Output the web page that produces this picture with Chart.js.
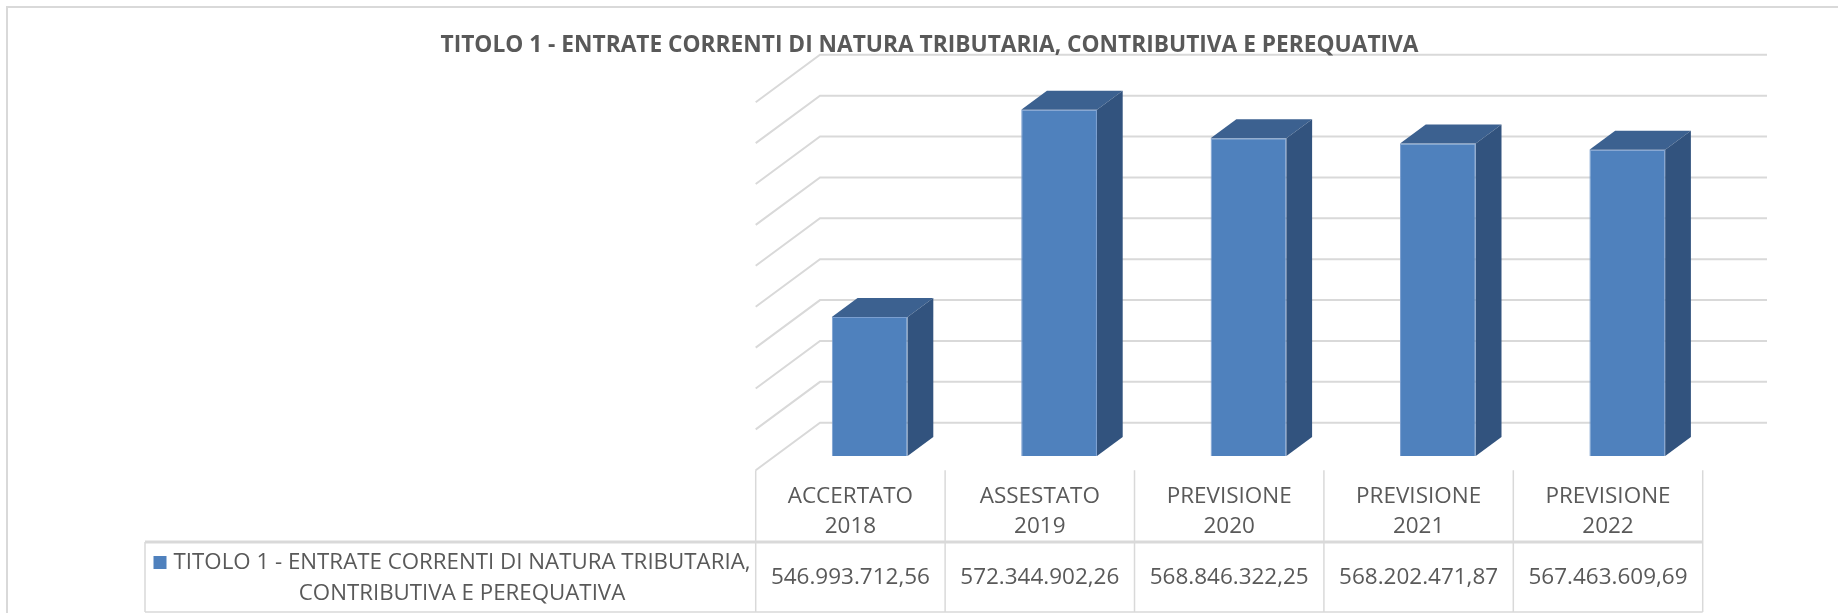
<!DOCTYPE html>
<html>
<head>
<meta charset="utf-8">
<script src="https://cdn.jsdelivr.net/npm/chart.js@4.4.0/dist/chart.umd.min.js"></script>
<style>
  html, body { margin: 0; padding: 0; background: #fff; }
  canvas { display: block; }
</style>
</head>
<body>
<canvas id="chart" width="1838" height="613"></canvas>
<script>
const chartTitle = 'TITOLO 1 - ENTRATE CORRENTI DI NATURA TRIBUTARIA, CONTRIBUTIVA E PEREQUATIVA';
const seriesName = ['TITOLO 1 - ENTRATE CORRENTI DI NATURA TRIBUTARIA,', 'CONTRIBUTIVA E PEREQUATIVA'];
const categories = [
    ['ACCERTATO', '2018'],
    ['ASSESTATO', '2019'],
    ['PREVISIONE', '2020'],
    ['PREVISIONE', '2021'],
    ['PREVISIONE', '2022']
];
const values = [546993712.56, 572344902.26, 568846322.25, 568202471.87, 567463609.69];
const yMin = 530000000;
const yMax = 575000000;
const yStep = 5000000;

const TEXT = '#595959';
const LINE = '#d9d9d9';

// depth of the 3d box: from the back wall to the front edge of the floor
const DEPTH = { x: -64.3, y: 47.5 };
const BAR_FRONT = 0.70;
const BAR_BACK = 0.30;

// shift from the bar front plane to a given depth (0 = back wall, 1 = front edge)
function shift (f) {
    return { x: DEPTH.x * (f - BAR_FRONT), y: DEPTH.y * (f - BAR_FRONT) };
}

// euro amounts written the italian way: 546.993.712,56
function euro (v) {
    const parts = v.toFixed(2).split('.');
    return parts[0].replace(/\B(?=(\d{3})+(?!\d))/g, '.') + ',' + parts[1];
}

function drawText (ctx, str, x, y, font, sx) {
    ctx.save();
    ctx.font = font;
    ctx.translate(x, y);
    ctx.scale(sx, 1);
    ctx.fillText(str, 0, 0);
    ctx.restore();
}

function fitScale (ctx, str, font, width) {
    ctx.save();
    ctx.font = font;
    const w = ctx.measureText(str).width;
    ctx.restore();
    return width / w;
}

const walls = {
    id: 'walls',
    beforeDatasetsDraw (chart) {
        const { ctx, chartArea: a, scales: { y } } = chart;
        const back = shift(0);
        const front = shift(1);
        ctx.save();
        ctx.strokeStyle = LINE;
        ctx.lineWidth = 2;
        y.ticks.forEach(t => {
            const py = y.getPixelForValue(t.value);
            ctx.beginPath();
            ctx.moveTo(a.left + front.x, py + front.y);
            ctx.lineTo(a.left + back.x, py + back.y);
            ctx.lineTo(a.right + back.x, py + back.y);
            ctx.stroke();
        });
        ctx.restore();
    }
};

const boxes = {
    id: 'boxes',
    afterDatasetsDraw (chart) {
        const { ctx, chartArea: a } = chart;
        const d = shift(BAR_BACK);
        ctx.save();
        chart.getDatasetMeta(0).data.forEach(bar => {
            const p = bar.getProps(['x', 'y', 'width', 'base'], true);
            // the bars rest on the floor, which is the bottom of the axis
            const base = Math.min(p.base, a.bottom);
            const y = p.y;
            const l = p.x - p.width / 2;
            const r = p.x + p.width / 2;
            ctx.fillStyle = '#3c6190';
            ctx.beginPath();
            ctx.moveTo(l, y);
            ctx.lineTo(l + d.x, y + d.y);
            ctx.lineTo(r + d.x, y + d.y);
            ctx.lineTo(r, y);
            ctx.closePath();
            ctx.fill();
            ctx.fillStyle = '#32537e';
            ctx.beginPath();
            ctx.moveTo(r, y);
            ctx.lineTo(r + d.x, y + d.y);
            ctx.lineTo(r + d.x, base + d.y);
            ctx.lineTo(r, base);
            ctx.closePath();
            ctx.fill();
        });
        ctx.restore();
    }
};

const table = {
    id: 'table',
    afterDraw (chart) {
        const { ctx, chartArea: a, scales: { x } } = chart;
        const front = shift(1);
        const colW = x.getPixelForValue(1) - x.getPixelForValue(0);
        const top = a.bottom + front.y;
        const rowLine = 542;
        const bottom = 612;
        const legendLeft = 145;
        const edges = [];
        for (let i = 0; i <= categories.length; i++) {
            edges.push(x.getPixelForValue(0) - colW / 2 + i * colW + front.x);
        }

        ctx.save();
        // outer frame of the chart
        ctx.strokeStyle = LINE;
        ctx.lineWidth = 2;
        ctx.beginPath();
        ctx.moveTo(7, 613);
        ctx.lineTo(7, 7);
        ctx.lineTo(1838, 7);
        ctx.stroke();

        // data table grid
        ctx.lineWidth = 1.5;
        edges.forEach(ex => {
            ctx.beginPath();
            ctx.moveTo(ex, top);
            ctx.lineTo(ex, bottom);
            ctx.stroke();
        });
        ctx.beginPath();
        ctx.moveTo(legendLeft, rowLine);
        ctx.lineTo(legendLeft, bottom);
        ctx.moveTo(legendLeft, bottom);
        ctx.lineTo(edges[edges.length - 1], bottom);
        ctx.stroke();
        ctx.lineWidth = 3;
        ctx.beginPath();
        ctx.moveTo(legendLeft, rowLine);
        ctx.lineTo(edges[edges.length - 1], rowLine);
        ctx.stroke();

        // title
        ctx.fillStyle = TEXT;
        ctx.textAlign = 'center';
        ctx.textBaseline = 'middle';
        const titleFont = 'bold 23px "Open Sans"';
        drawText(ctx, chartTitle, 929.5, 45, titleFont, fitScale(ctx, chartTitle, titleFont, 978));

        // category labels and values
        const cellFont = '21px "Open Sans"';
        const sx = fitScale(ctx, '546.993.712,56', cellFont, 159);
        categories.forEach((c, i) => {
            const cx = x.getPixelForValue(i) + front.x;
            drawText(ctx, c[0], cx, 497, cellFont, sx);
            drawText(ctx, c[1], cx, 527, cellFont, sx);
            drawText(ctx, euro(values[i]), cx, 578, cellFont, sx);
        });

        // legend cell
        const lx = 462;
        const lsx = fitScale(ctx, seriesName[0], cellFont, 577);
        drawText(ctx, seriesName[0], lx, 563, cellFont, lsx);
        drawText(ctx, seriesName[1], lx, 594, cellFont, lsx);
        ctx.font = cellFont;
        const half = ctx.measureText(seriesName[0]).width * lsx / 2;
        ctx.fillStyle = '#4f81bd';
        ctx.fillRect(lx - half - 20, 556, 13, 13);
        ctx.restore();
    }
};

const ctx = document.getElementById('chart');

let chart = new Chart(ctx, {
    type: 'bar',
    data: {
        labels: categories.map(c => c.join(' ')),
        datasets: [{
            label: seriesName.join(' '),
            data: values,
            backgroundColor: '#4f81bd',
            borderColor: '#7b9fd0',
            borderWidth: 1,
            categoryPercentage: 0.8,
            barPercentage: 0.5
        }]
    },
    options: {
        responsive: false,
        animation: false,
        devicePixelRatio: 1,
        layout: {
            padding: { left: 775, right: 116, top: 88, bottom: 157 }
        },
        plugins: {
            legend: { display: false },
            title: { display: false },
            tooltip: { enabled: false }
        },
        scales: {
            x: { display: false },
            y: {
                display: false,
                min: yMin,
                max: yMax,
                ticks: { stepSize: yStep }
            }
        }
    },
    plugins: [walls, boxes, table]
});
</script>
</body>
</html>
